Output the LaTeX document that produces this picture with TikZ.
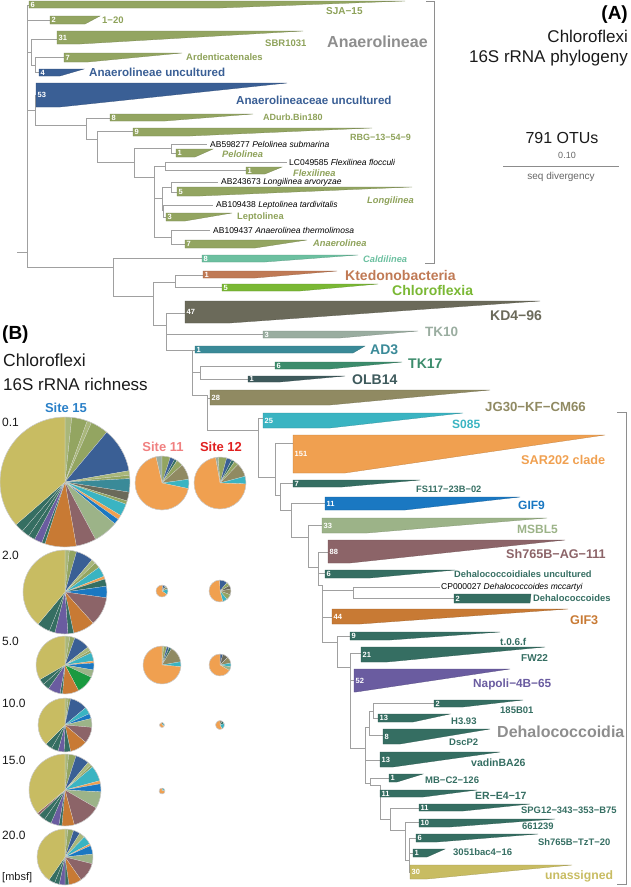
\documentclass[tikz,border=0pt]{standalone}
\usepackage{fontspec}
\setmainfont{Liberation Sans}
\newcommand{\fsz}[1]{\fontsize{#1}{#1}\selectfont}
\definecolor{agrn}{HTML}{93A561}
\definecolor{agrnT}{HTML}{8EA25A}
\definecolor{pgrnA}{HTML}{A9B77A}
\definecolor{ablu}{HTML}{3A5F95}
\definecolor{cald}{HTML}{6CC0A0}
\definecolor{kted}{HTML}{C07A55}
\definecolor{chlf}{HTML}{7AB834}
\definecolor{kdc}{HTML}{6B6A5A}
\definecolor{tkten}{HTML}{9AADA0}
\definecolor{adth}{HTML}{3A8A98}
\definecolor{tkst}{HTML}{3C8C6C}
\definecolor{olb}{HTML}{3E5A5C}
\definecolor{jgc}{HTML}{908A62}
\definecolor{sof}{HTML}{3AB4C2}
\definecolor{sar}{HTML}{F0A050}
\definecolor{dteal}{HTML}{356E62}
\definecolor{gifn}{HTML}{1A78C2}
\definecolor{msbl}{HTML}{9CB388}
\definecolor{mauv}{HTML}{8C6468}
\definecolor{gift}{HTML}{C87A34}
\definecolor{napo}{HTML}{6A5CA0}
\definecolor{unas}{HTML}{C8BC62}
\definecolor{bgrn}{HTML}{1A9A40}
\definecolor{treeln}{HTML}{A0A0A0}
\definecolor{biggry}{HTML}{8E8E8E}
\definecolor{siteA}{HTML}{2A80C8}
\definecolor{siteB}{HTML}{F08080}
\definecolor{siteC}{HTML}{E02020}
\definecolor{txtg}{HTML}{1A1A1A}
\tikzset{
  tl/.style={draw=treeln, line width=0.6},
  lab/.style={anchor=west, inner sep=0},
  num/.style={anchor=west, inner sep=0, text=white, font=\bfseries\fsz{7.5}},
  leaf/.style={anchor=west, inner sep=0, font=\fsz{8.5}, text=black},
  pieb/.style={draw=black!22, line width=0.4},
}
% name, x0, yt, yb, xm, xt, color, number
\newcommand{\clade}[8]{%
  \fill[#7, draw=#7!78!black, line width=0.25] (#2,#3) -- (#6,#3) -- (#5,#4) -- (#2,#4) -- cycle;
  \node[num] (#1) at ({#2+1.5},{(#3+#4)/2}) {#8};}
% cx, cy, r, start angle, list of end/color
\newcommand{\drawpie}[5]{%
  \begin{scope}[shift={(#1,#2)},yscale=-1]
  \xdef\pprev{#4}%
  \foreach \e/\c in {#5}{%
    \fill[\c, draw=white!75!gray, line width=0.15] (0,0) -- (\pprev:#3) arc[start angle=\pprev, end angle=\e, radius=#3] -- cycle;
    \xdef\pprev{\e}%
  }%
  \draw[pieb] (0,0) circle[radius=#3];
  \end{scope}}
\begin{document}
\begin{tikzpicture}[x=1pt,y=-1pt]
\useasboundingbox (0,0) rectangle (630,887);
% ---------------- tree lines ----------------
\draw[tl]
 (17,252)--(27,252) (27,5)--(27,267) (27,5)--(29,5)
 (27,20)--(50,20)
 (27,52)--(31,52) (31,39)--(31,65) (31,39)--(57,39)
 (31,65)--(35,65) (35,57)--(35,72) (35,57)--(64,57) (35,72)--(39,72)
 (27,110)--(35,110) (35,95)--(35,125) (35,125)--(86,125)
 (86,118)--(86,139) (86,118)--(110,118) (86,139)--(97,139)
 (97,131)--(97,162) (97,131)--(133,131) (97,162)--(134,162)
 (134,148)--(134,177) (134,148)--(171,148) (134,177)--(154,177)
 (171,144)--(171,153) (171,144)--(207,144) (171,153)--(176,153)
 (154,166)--(154,237) (154,166)--(165,166) (154,198)--(162,198) (154,237)--(171,237)
 (165,162)--(165,170) (165,162)--(287,162) (165,170)--(246,170)
 (162,187)--(162,210) (162,187)--(171,187) (162,210)--(163,210)
 (171,182)--(171,192) (171,182)--(218,182) (171,192)--(177,192)
 (163,205)--(163,217) (163,205)--(213,205) (163,217)--(166,217)
 (171,230)--(171,244) (171,230)--(210,230) (171,244)--(185,244)
 (27,267)--(113,267) (113,258)--(113,296) (113,258)--(202,258) (113,296)--(153,296)
 (153,282)--(153,325) (153,282)--(175,282) (175,275)--(175,287) (175,275)--(203,275) (175,287)--(222,287)
 (153,325)--(166,325) (166,313)--(166,350) (166,313)--(185,313) (166,334)--(263,334) (166,350)--(195,350)
 (192,350)--(192,395) (192,372)--(200,372) (200,366)--(200,379) (200,366)--(275,366) (200,379)--(248,379)
 (192,395)--(207,395) (207,395)--(207,430) (207,398)--(210,398) (207,430)--(258,430)
 (258,418)--(258,477) (258,418)--(263,418) (258,477)--(275,477)
 (275,443)--(275,495) (275,443)--(293,443) (275,495)--(280,495)
 (280,483)--(280,510) (280,483)--(293,483) (280,510)--(291,510)
 (291,503)--(291,537) (291,503)--(325,503) (291,537)--(308,537)
 (308,525)--(308,567) (308,525)--(322,525) (308,567)--(318,567)
 (318,552)--(318,585) (318,552)--(328,552) (318,573)--(325,573) (318,585)--(322,585)
 (322,585)--(322,642) (322,590)--(353,590) (322,617)--(332,617) (322,642)--(337,642)
 (353,587)--(353,598) (353,587)--(440,587) (353,598)--(454,598)
 (337,636)--(337,667) (337,636)--(350,636) (337,667)--(350,667)
 (350,653)--(350,748) (350,653)--(361,653) (350,680)--(354,680) (350,748)--(365,748)
 (365,727)--(365,783) (365,727)--(369,727) (365,760)--(380,760) (365,783)--(370,783)
 (369,711)--(369,735) (369,711)--(373,711) (369,735)--(383,735)
 (373,703)--(373,718) (373,703)--(434,703) (373,718)--(378,718)
 (370,778)--(370,785) (370,778)--(389,778) (370,785)--(380,785)
 (380,785)--(380,819) (380,819)--(390,819)
 (390,808)--(390,830) (390,808)--(419,808) (390,830)--(405,830)
 (405,822)--(405,860) (405,822)--(419,822) (405,860)--(409,860)
 (409,838)--(409,872) (409,838)--(416,838) (409,853)--(413,853) (409,872)--(410,872);
% brackets
\draw[draw=biggry, line width=0.8] (426,1)--(434,1)--(434,263)--(425,263);
\draw[draw=biggry, line width=0.8] (617,412)--(626,412)--(626,884)--(617,884);
% ---------------- clades ----------------
\clade{n1}{29}{1}{8}{220}{405}{agrn}{6}
\clade{n2}{50}{16}{24}{85}{100}{agrn}{2}
\clade{n3}{57}{31}{44}{80}{303}{agrn}{31}
\clade{n4}{64}{53}{62}{88}{182}{agrn}{7}
\clade{n5}{39}{69}{76}{60}{84}{ablu}{4}
\clade{n6}{36}{83}{107}{60}{287}{ablu}{53}
\clade{n7}{110}{114}{121}{165}{253}{agrn}{8}
\clade{n8}{133}{128}{136}{190}{372}{agrn}{9}
\clade{n9}{176}{149}{157}{195}{213}{agrn}{1}
\clade{n10}{246}{167}{174}{265}{282}{agrn}{1}
\clade{n11}{177}{187}{196}{200}{412}{agrn}{5}
\clade{n12}{166}{213}{221}{185}{232}{agrn}{3}
\clade{n13}{185}{240}{248}{255}{307}{agrn}{7}
\clade{n14}{202}{255}{262}{265}{358}{cald}{8}
\clade{n15}{203}{271}{278}{255}{337}{kted}{1}
\clade{n16}{222}{284}{291}{300}{378}{chlf}{5}
\clade{n17}{185}{301}{323}{230}{540}{kdc}{47}
\clade{n18}{263}{331}{338}{340}{418}{tkten}{3}
\clade{n19}{195}{346}{353}{353}{365}{adth}{1}
\clade{n20}{275}{362}{369}{330}{402}{tkst}{6}
\clade{n21}{248}{376}{382}{280}{345}{olb}{1}
\clade{n22}{210}{390}{405}{330}{490}{jgc}{28}
\clade{n23}{263}{413}{428}{330}{463}{sof}{25}
\clade{n24}{293}{435}{473}{345}{605}{sar}{151}
\clade{n25}{293}{480}{487}{342}{420}{dteal}{7}
\clade{n26}{325}{497}{510}{405}{520}{gifn}{11}
\clade{n27}{322}{518}{533}{367}{547}{msbl}{33}
\clade{n28}{328}{540}{563}{350}{565}{mauv}{88}
\clade{n29}{325}{570}{578}{370}{455}{dteal}{6}
\clade{n30}{454}{594}{603}{530}{531}{dteal}{2}
\clade{n31}{332}{609}{624}{360}{568}{gift}{44}
\clade{n32}{350}{632}{640}{390}{500}{dteal}{9}
\clade{n33}{361}{647}{662}{387}{545}{dteal}{21}
\clade{n34}{354}{669}{692}{356}{510}{napo}{52}
\clade{n35}{434}{700}{707}{463}{523}{dteal}{2}
\clade{n36}{378}{714}{722}{413}{450}{dteal}{13}
\clade{n37}{383}{729}{744}{400}{490}{dteal}{8}
\clade{n38}{380}{752}{767}{393}{500}{dteal}{13}
\clade{n39}{389}{774}{782}{397}{423}{dteal}{1}
\clade{n40}{380}{790}{797}{423}{477}{dteal}{11}
\clade{n41}{419}{804}{811}{463}{530}{dteal}{11}
\clade{n42}{419}{819}{827}{450}{555}{dteal}{10}
\clade{n43}{416}{834}{842}{437}{538}{dteal}{6}
\clade{n44}{413}{849}{857}{427}{445}{dteal}{1}
\clade{n45}{410}{865}{879}{427}{572}{unas}{30}
% ---------------- clade labels ----------------
\node[lab, text=agrnT, font=\bfseries\fsz{10}] (l1) at (326,11) {SJA−15};
\node[lab, text=agrnT, font=\bfseries\fsz{9.5}] (l2) at (102,20) {1−20};
\node[lab, text=agrnT, font=\bfseries\fsz{9.5}] (l3) at (265,43) {SBR1031};
\node[lab, text=agrnT, font=\bfseries\fsz{9.5}] (l4) at (186,57) {Ardenticatenales};
\node[lab, text=ablu, font=\bfseries\fsz{11.6}] (l5) at (89,72) {Anaerolineae uncultured};
\node[lab, text=ablu, font=\bfseries\fsz{11.6}] (l6) at (236,100) {Anaerolineaceae uncultured};
\node[lab, text=biggry, font=\bfseries\fsz{16}] (lA) at (327,42) {Anaerolineae};
\node[lab, text=agrnT, font=\bfseries\fsz{9}] (l7) at (263,117) {ADurb.Bin180};
\node[lab, text=agrnT, font=\bfseries\fsz{9}] (l8) at (350,137) {RBG−13−54−9};
\node[lab, text=agrnT, font=\bfseries\itshape\fsz{9.3}] (l9) at (222,154) {Pelolinea};
\node[lab, text=agrnT, font=\bfseries\itshape\fsz{9.3}] (l10) at (293,173) {Flexilinea};
\node[lab, text=agrnT, font=\bfseries\itshape\fsz{9.3}] (l11) at (367,201) {Longilinea};
\node[lab, text=agrnT, font=\bfseries\fsz{9.3}] (l12) at (237,217) {Leptolinea};
\node[lab, text=agrnT, font=\bfseries\itshape\fsz{9.3}] (l13) at (313,243) {Anaerolinea};
\node[lab, text=cald, font=\bfseries\itshape\fsz{9.3}] (l14) at (363,259) {Caldilinea};
\node[lab, text=kted, font=\bfseries\fsz{14}] (l15) at (345,275) {Ktedonobacteria};
\node[lab, text=chlf, font=\bfseries\fsz{14}] (l16) at (392,290) {Chloroflexia};
\node[lab, text=kdc, font=\bfseries\fsz{14}] (l17) at (490,316) {KD4−96};
\node[lab, text=tkten, font=\bfseries\fsz{13.5}] (l18) at (425,332) {TK10};
\node[lab, text=adth, font=\bfseries\fsz{14}] (l19) at (370,350) {AD3};
\node[lab, text=tkst, font=\bfseries\fsz{14}] (l20) at (408,364) {TK17};
\node[lab, text=olb, font=\bfseries\fsz{14}] (l21) at (352,380) {OLB14};
\node[lab, text=jgc, font=\bfseries\fsz{13.2}] (l22) at (485,407) {JG30−KF−CM66};
\node[lab, text=sof, font=\bfseries\fsz{12}] (l23) at (452,424) {S085};
\node[lab, text=sar, font=\bfseries\fsz{12.7}] (l24) at (521,460) {SAR202 clade};
\node[lab, text=dteal, font=\bfseries\fsz{9.3}] (l25) at (416,489) {FS117−23B−02};
\node[lab, text=gifn, font=\bfseries\fsz{12}] (l26) at (518,505) {GIF9};
\node[lab, text=msbl, font=\bfseries\fsz{12}] (l27) at (517,529) {MSBL5};
\node[lab, text=mauv, font=\bfseries\fsz{12.6}] (l28) at (506,554) {Sh765B−AG−111};
\node[lab, text=dteal, font=\bfseries\fsz{9.3}] (l29) at (454,574) {Dehalococcoidiales uncultured};
\node[lab, text=dteal, font=\bfseries\fsz{9.4}] (l30) at (533,598) {Dehalococcoides};
\node[lab, text=gift, font=\bfseries\fsz{12.6}] (l31) at (570,620) {GIF3};
\node[lab, text=dteal, font=\bfseries\fsz{10}] (l32) at (500,642) {t.0.6.f};
\node[lab, text=dteal, font=\bfseries\fsz{10}] (l33) at (521,658) {FW22};
\node[lab, text=napo, font=\bfseries\fsz{11.8}] (l34) at (473,684) {Napoli−4B−65};
\node[lab, text=dteal, font=\bfseries\fsz{9.5}] (l35) at (500,710) {185B01};
\node[lab, text=dteal, font=\bfseries\fsz{9.5}] (l36) at (451,721) {H3.93};
\node[lab, text=biggry, font=\bfseries\fsz{16}] (lD) at (497,732) {Dehalococcoidia};
\node[lab, text=dteal, font=\bfseries\fsz{9.5}] (l37) at (449,742) {DscP2};
\node[lab, text=dteal, font=\bfseries\fsz{10.5}] (l38) at (471,763) {vadinBA26};
\node[lab, text=dteal, font=\bfseries\fsz{9.5}] (l39) at (425,780) {MB−C2−126};
\node[lab, text=dteal, font=\bfseries\fsz{10.5}] (l40) at (475,796) {ER−E4−17};
\node[lab, text=dteal, font=\bfseries\fsz{9.4}] (l41) at (521,810) {SPG12−343−353−B75};
\node[lab, text=dteal, font=\bfseries\fsz{9.4}] (l42) at (522,826) {661239};
\node[lab, text=dteal, font=\bfseries\fsz{9.4}] (l43) at (538,842) {Sh765B−TzT−20};
\node[lab, text=dteal, font=\bfseries\fsz{9.5}] (l44) at (453,852) {3051bac4−16};
\node[lab, text=unas, font=\bfseries\fsz{12.2}] (l45) at (545,876) {unassigned};
% leaf labels
\node[leaf] (f1) at (210,144) {AB598277 \textit{Pelolinea submarina}};
\node[leaf] (f2) at (289,162) {LC049585 \textit{Flexilinea flocculi}};
\node[leaf] (f3) at (221,182) {AB243673 \textit{Longilinea arvoryzae}};
\node[leaf] (f4) at (216,205) {AB109438 \textit{Leptolinea tardivitalis}};
\node[leaf] (f5) at (213,230) {AB109437 \textit{Anaerolinea thermolimosa}};
\node[leaf] (f6) at (441,587) {CP000027 \textit{Dehalococcoides mccartyi}};
% ---------------- titles ----------------
\node[anchor=east, inner sep=0, font=\bfseries\fsz{19}] (tA) at (628,15) {(A)};
\node[anchor=east, inner sep=0, font=\fsz{17}, text=txtg] (tA1) at (628,36) {Chloroflexi};
\node[anchor=east, inner sep=0, font=\fsz{17}, text=txtg] (tA2) at (628,58) {16S rRNA phylogeny};
\node[inner sep=0, font=\fsz{16}, text=txtg] (otu) at (562,138) {791 OTUs};
\node[inner sep=0, font=\fsz{9}, text=black!60] (sc) at (567,155) {0.10};
\coordinate (sbl) at (503,166);
\coordinate (sbr) at (619,166);
\draw[black!45, line width=0.7] (sbl) -- (sbr);
\node[inner sep=0, font=\fsz{10}, text=black!60] (sd) at (561,177) {seq divergency};
\node[anchor=west, inner sep=0, font=\bfseries\fsz{19}] (tB) at (2,335) {(B)};
\node[anchor=west, inner sep=0, font=\fsz{17.5}, text=txtg] (tB1) at (3,360) {Chloroflexi};
\node[anchor=west, inner sep=0, font=\fsz{17}, text=txtg] (tB2) at (3,384) {16S rRNA richness};
\node[inner sep=0, font=\bfseries\fsz{13}, text=siteA] (s15) at (66,408) {Site 15};
\node[inner sep=0, font=\bfseries\fsz{13}, text=siteB] (s11) at (163,447) {Site 11};
\node[inner sep=0, font=\bfseries\fsz{13}, text=siteC] (s12) at (221,447) {Site 12};
\node[anchor=west, inner sep=0, font=\fsz{12}, text=txtg] (d1) at (2,422) {0.1};
\node[anchor=west, inner sep=0, font=\fsz{12}, text=txtg] (d2) at (2,555) {2.0};
\node[anchor=west, inner sep=0, font=\fsz{12}, text=txtg] (d3) at (2,641) {5.0};
\node[anchor=west, inner sep=0, font=\fsz{12}, text=txtg] (d4) at (2,703) {10.0};
\node[anchor=west, inner sep=0, font=\fsz{12}, text=txtg] (d5) at (2,760) {15.0};
\node[anchor=west, inner sep=0, font=\fsz{12}, text=txtg] (d6) at (2,835) {20.0};
\node[anchor=west, inner sep=0, font=\fsz{11}, text=txtg] (mb) at (2,878) {[mbsf]};
% ---------------- pies ----------------
\drawpie{65}{482}{65}{90}{84/pgrnA, 70/agrn, 66/pgrnA, 50/agrn, 10/ablu, 6/pgrnA, 3/agrn, -9/adth, -17/kdc, -20/agrn, -31/sof, -35/sar, -40/gifn, -62/msbl, -80/mauv, -108/gift, -111/dteal, -118/napo, -124/dteal, -131/dteal, -139/dteal, -270/unas}
\drawpie{162}{483}{27}{103}{90/tkten, 72/agrn, 62/ablu, 56/dteal, 42/agrn, 8/jgc, -12/sof, -257/sar}
\drawpie{220}{483}{26}{100}{94/tkten, 75/agrn, 63/ablu, 56/dteal, 46/agrn, 15/jgc, -2/sof, -260/sar}
\drawpie{65}{592}{42}{90}{84/pgrnA, 74/agrn, 50/ablu, 44/pgrnA, 36/agrn, 22/sof, 18/sar, 8/dteal, -8/gifn, -48/mauv, -78/gift, -86/dteal, -104/napo, -112/dteal, -130/dteal, -270/unas}
\drawpie{162}{591}{6}{85}{60/ablu, 45/dteal, 20/jgc, -35/sof, -275/sar}
\drawpie{220}{591}{11}{92}{50/ablu, 30/agrn, 10/kdc, -20/jgc, -50/agrn, -75/sof, -268/sar}
\drawpie{65}{665}{29}{90}{80/pgrnA, 70/agrn, 38/ablu, 30/pgrnA, 25/agrn, 8/sof, 4/sar, -10/gifn, -25/msbl, -62/bgrn, -95/gift, -100/dteal, -125/napo, -138/dteal, -150/dteal, -270/unas}
\drawpie{162}{665}{19}{90}{85/pgrnA, 75/agrn, 68/ablu, 60/dteal, 10/jgc, -5/sof, -270/sar}
\drawpie{220}{665}{11}{90}{75/ablu, 45/kdc, 10/jgc, -10/sof, -30/msbl, -270/sar}
\drawpie{65}{725}{27}{90}{83/pgrnA, 78/agrn, 40/ablu, 25/sof, 14/gifn, -5/msbl, -40/mauv, -78/gift, -92/dteal, -105/napo, -120/dteal, -135/dteal, -270/unas}
\drawpie{162}{725}{2.5}{90}{40/dteal, -20/sof, -270/sar}
\drawpie{220}{725}{4.5}{90}{60/kdc, 20/dteal, -60/sof, -270/sar}
\drawpie{65}{790}{36}{90}{84/pgrnA, 72/agrn, 50/ablu, 44/pgrnA, 40/agrn, 15/sof, 10/sar, -3/gifn, -30/msbl, -75/mauv, -95/gift, -100/dteal, -113/napo, -125/dteal, -136/dteal, -140/mauv, -270/unas}
\drawpie{162}{791}{3}{90}{60/dteal, 10/sof, -270/sar}
\drawpie{65}{857}{28}{90}{84/pgrnA, 72/agrn, 58/ablu, 46/pgrnA, 28/sof, 24/sar, 6/gifn, -14/msbl, -55/mauv, -82/gift, -90/dteal, -102/napo, -112/dteal, -125/dteal, -270/unas}
\end{tikzpicture}
\end{document}
